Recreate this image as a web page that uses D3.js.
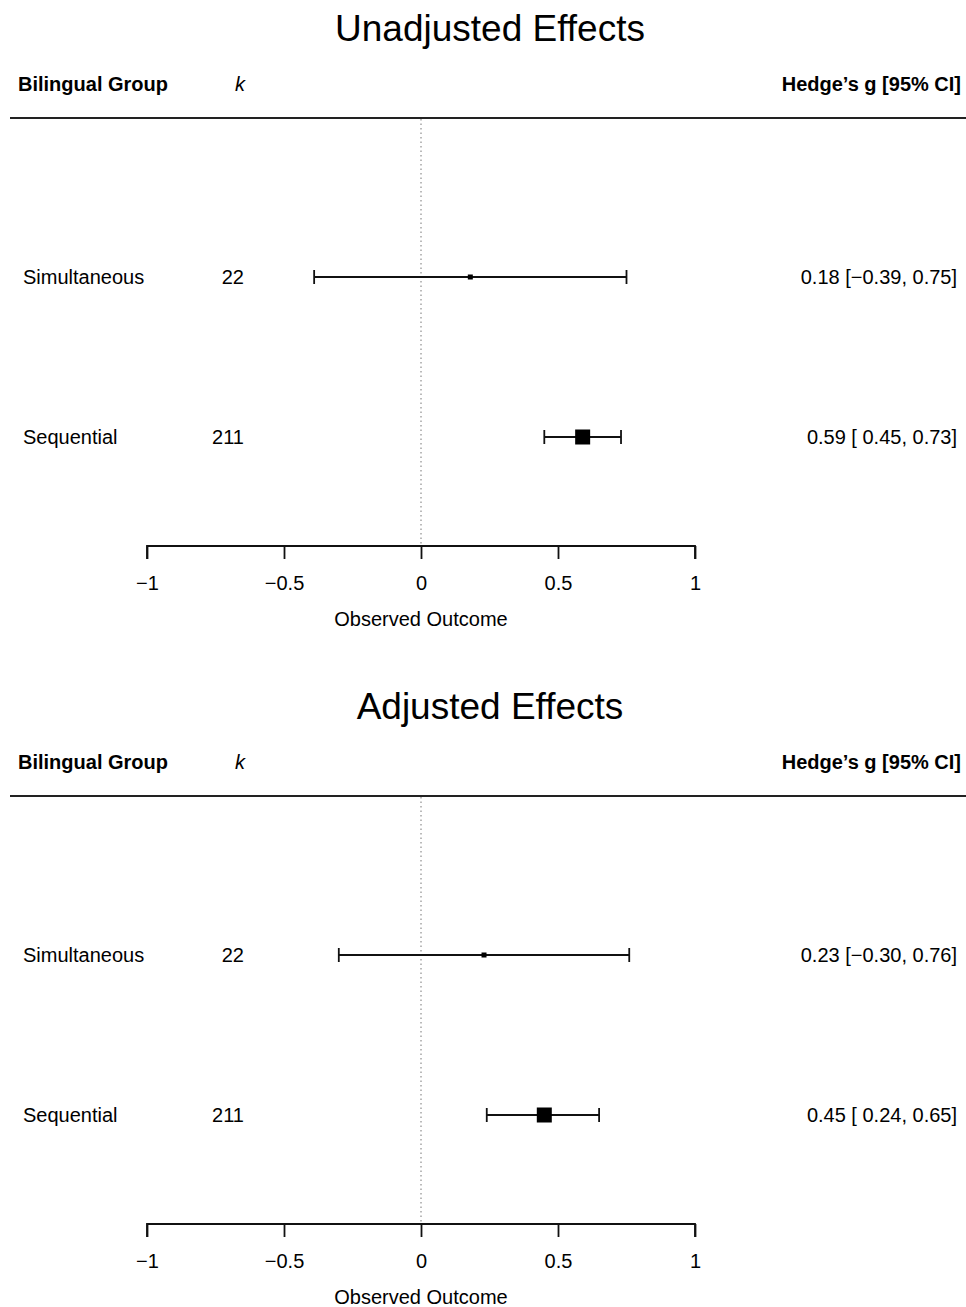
<!DOCTYPE html>
<html>
<head>
<meta charset="utf-8">
<script src="https://cdn.jsdelivr.net/npm/d3@7"></script>
<style>
  body { margin: 0; background: #fff; }
  text { font-family: "Liberation Sans", Arial, Helvetica, sans-serif; fill: #000; }
</style>
</head>
<body>
<div id="chart-area"></div>
<script>
// SVG Size
let width = 966,
	height = 1307;

// data
let groups = ["Simultaneous", "Sequential"];
let kValues = [22, 211];
let panelTitles = ["Unadjusted Effects", "Adjusted Effects"];

let unadjEst = [0.18, 0.59];
let unadjLower = [-0.39, 0.45];
let unadjUpper = [0.75, 0.73];

let adjEst = [0.23, 0.45];
let adjLower = [-0.30, 0.24];
let adjUpper = [0.76, 0.65];

let xTicks = [-1, -0.5, 0, 0.5, 1];

let panelHeight = 678;

let svg = d3.select("#chart-area")
	.append("svg")
	.attr("width", width)
	.attr("height", height);

let x = d3.scaleLinear()
	.domain([-1, 1])
	.range([147, 695]);

let y = d3.scalePoint()
	.domain(groups)
	.range([277, 437]);

let minus = s => s.replace("-", "\u2212");
let fmt = v => minus(d3.format(".2f")(v));

drawPanel(0, panelTitles[0], unadjEst, unadjLower, unadjUpper);
drawPanel(panelHeight, panelTitles[1], adjEst, adjLower, adjUpper);

function drawPanel(offset, title, est, lower, upper) {
	let g = svg.append("g")
		.attr("transform", "translate(0," + offset + ")");

	let rows = groups.map((name, i) => ({
		name: name,
		k: kValues[i],
		est: est[i],
		lo: lower[i],
		hi: upper[i],
		w: 1 / Math.pow((upper[i] - lower[i]) / 3.92, 2)
	}));

	// square size from inverse-variance weights
	let size = d3.scaleLinear()
		.domain(d3.extent(rows, d => d.w))
		.range([5, 15]);

	g.append("text")
		.attr("x", 490)
		.attr("y", 41)
		.attr("text-anchor", "middle")
		.style("font-size", "37px")
		.text(title);

	// header
	g.append("text")
		.attr("x", 18)
		.attr("y", 91)
		.style("font-size", "20px")
		.style("font-weight", "bold")
		.text("Bilingual Group");

	g.append("text")
		.attr("x", 240)
		.attr("y", 91)
		.attr("text-anchor", "middle")
		.style("font-size", "20px")
		.style("font-style", "italic")
		.text("k");

	g.append("text")
		.attr("x", 961)
		.attr("y", 91)
		.attr("text-anchor", "end")
		.style("font-size", "20px")
		.style("font-weight", "bold")
		.text("Hedge\u2019s g [95% CI]");

	g.append("line")
		.attr("x1", 10)
		.attr("x2", 966)
		.attr("y1", 118)
		.attr("y2", 118)
		.attr("stroke", "#222")
		.attr("stroke-width", 2);

	// reference line at 0
	g.append("line")
		.attr("x1", x(0))
		.attr("x2", x(0))
		.attr("y1", 119)
		.attr("y2", 546)
		.attr("stroke", "#777")
		.attr("stroke-width", 1)
		.attr("stroke-dasharray", "1.5,3");

	// rows
	let row = g.selectAll(".row")
		.data(rows)
		.enter()
		.append("g")
		.attr("class", "row")
		.attr("transform", d => "translate(0," + y(d.name) + ")");

	row.append("text")
		.attr("x", 23)
		.attr("y", 7)
		.style("font-size", "20px")
		.text(d => d.name);

	row.append("text")
		.attr("x", 244)
		.attr("y", 7)
		.attr("text-anchor", "end")
		.style("font-size", "20px")
		.text(d => d.k);

	row.append("text")
		.attr("x", 957)
		.attr("y", 7)
		.attr("text-anchor", "end")
		.style("font-size", "20px")
		.text(d => fmt(d.est) + " [" + (d.lo < 0 ? "" : " ") + fmt(d.lo) + ", " + fmt(d.hi) + "]");

	row.append("line")
		.attr("x1", d => x(d.lo))
		.attr("x2", d => x(d.hi))
		.attr("y1", 0)
		.attr("y2", 0)
		.attr("stroke", "#111")
		.attr("stroke-width", 1.8);

	row.selectAll(".cap")
		.data(d => [d.lo, d.hi])
		.enter()
		.append("line")
		.attr("x1", v => x(v))
		.attr("x2", v => x(v))
		.attr("y1", -7)
		.attr("y2", 7)
		.attr("stroke", "#111")
		.attr("stroke-width", 1.8);

	row.append("rect")
		.attr("x", d => x(d.est) - size(d.w) / 2)
		.attr("y", d => -size(d.w) / 2)
		.attr("width", d => size(d.w))
		.attr("height", d => size(d.w))
		.attr("fill", "#000");

	// axis
	let xAxis = d3.axisBottom(x)
		.tickValues(xTicks)
		.tickSize(13)
		.tickPadding(17)
		.tickFormat(v => minus(String(v)));

	let ax = g.append("g")
		.attr("transform", "translate(0,546)")
		.call(xAxis);

	ax.select(".domain")
		.attr("stroke", "#111")
		.attr("stroke-width", 1.8)
		.attr("d", "M" + x(-1) + ",13V0H" + x(1) + "V13");
	ax.selectAll(".tick line")
		.attr("stroke", "#111")
		.attr("stroke-width", 1.8);
	ax.selectAll(".tick text")
		.style("font-size", "20px")
		.attr("fill", "#000")
		.attr("font-family", null);

	g.append("text")
		.attr("x", x(0))
		.attr("y", 626)
		.attr("text-anchor", "middle")
		.style("font-size", "20px")
		.text("Observed Outcome");
}
</script>
</body>
</html>
